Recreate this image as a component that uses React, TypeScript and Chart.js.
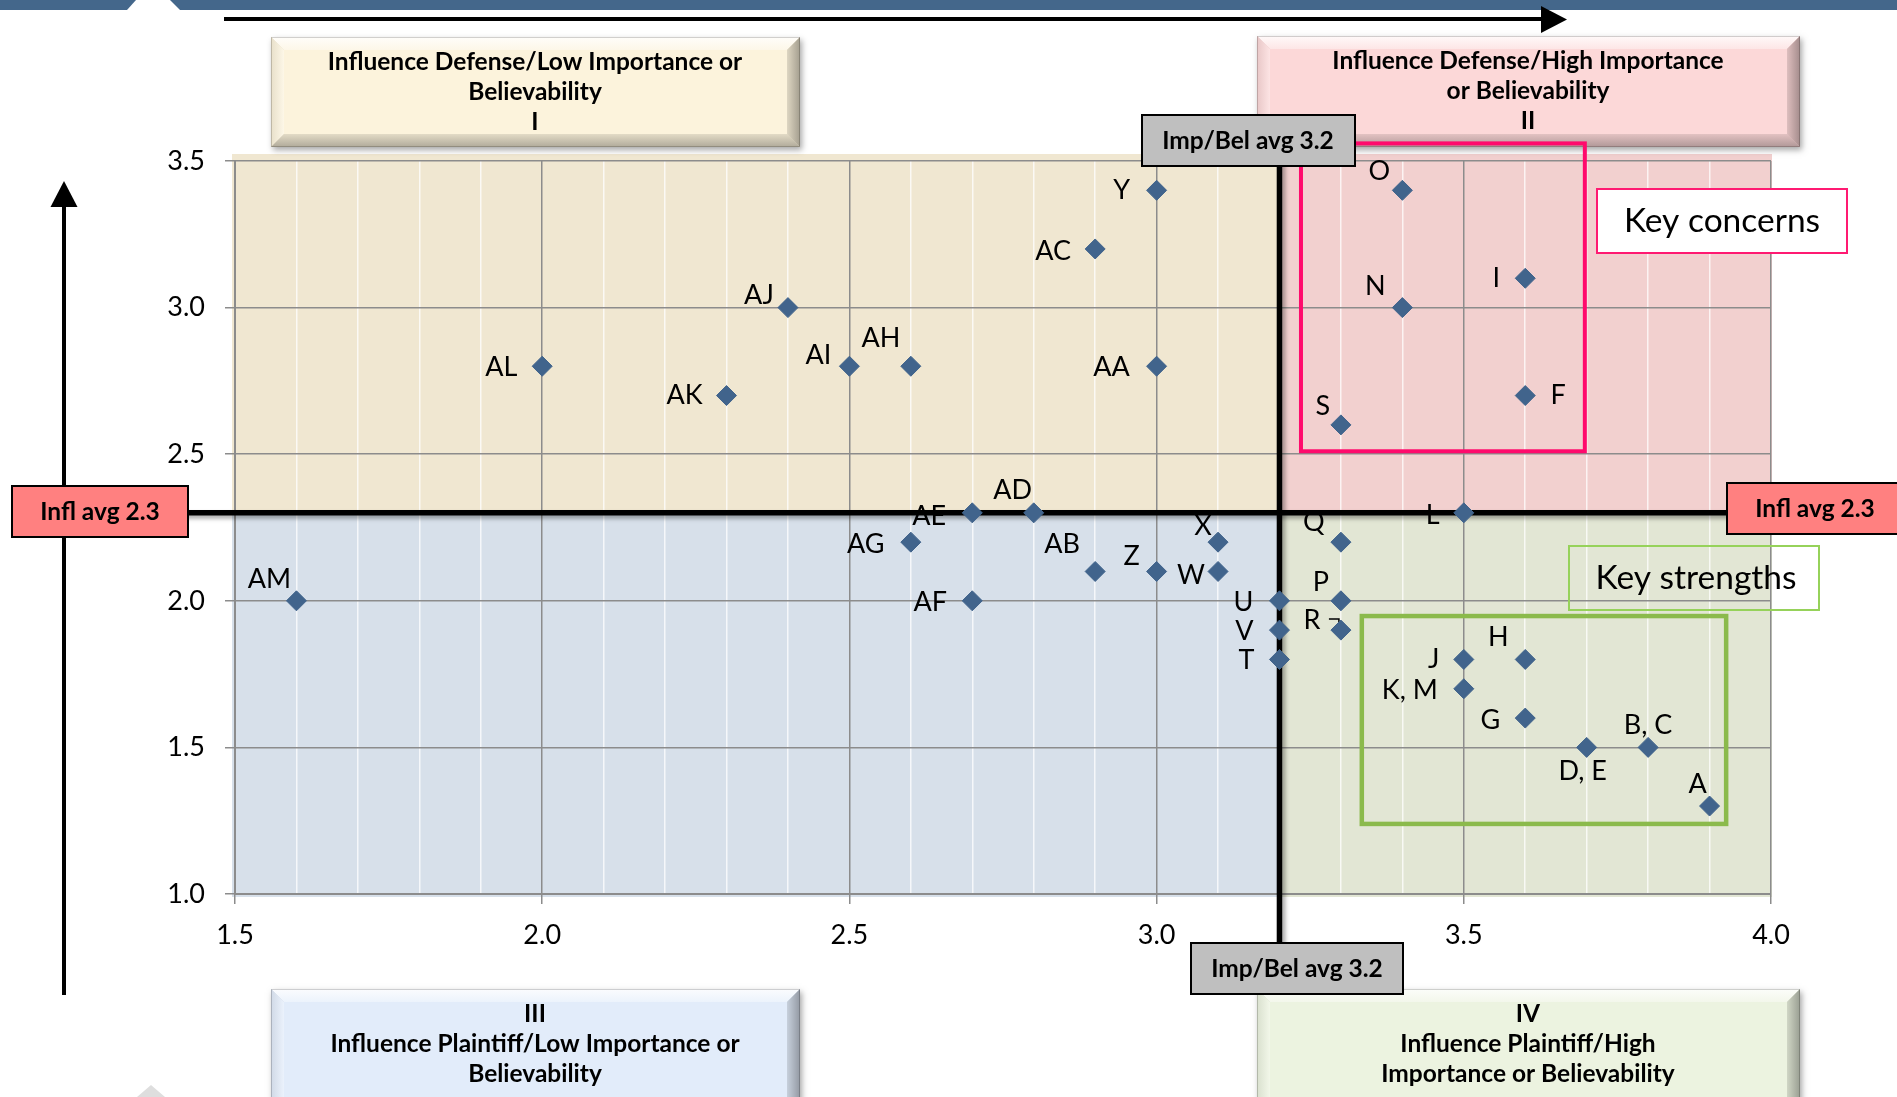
import { useEffect, useRef } from 'react';
import { Chart, registerables } from 'chart.js';

Chart.register(...registerables);

// ---------------- data ----------------
const pointLabels = ['A', 'B, C', 'D, E', 'F', 'G', 'H', 'I', 'J', 'K, M', 'L', 'N', 'O', 'P', 'Q', 'R', 'S', 'T', 'U', 'V', 'W', 'X', 'Y', 'Z', 'AA', 'AB', 'AC', 'AD', 'AE', 'AF', 'AG', 'AH', 'AI', 'AJ', 'AK', 'AL', 'AM'];
const importanceValues = [3.9, 3.8, 3.7, 3.6, 3.6, 3.6, 3.6, 3.5, 3.5, 3.5, 3.4, 3.4, 3.3, 3.3, 3.3, 3.3, 3.2, 3.2, 3.2, 3.1, 3.1, 3.0, 3.0, 3.0, 2.9, 2.9, 2.8, 2.7, 2.7, 2.6, 2.6, 2.5, 2.4, 2.3, 2.0, 1.6];
const influenceValues = [1.3, 1.5, 1.5, 2.7, 1.6, 1.8, 3.1, 1.8, 1.7, 2.3, 3.0, 3.4, 2.0, 2.2, 1.9, 2.6, 1.8, 2.0, 1.9, 2.1, 2.2, 3.4, 2.1, 2.8, 2.1, 3.2, 2.3, 2.3, 2.0, 2.2, 2.8, 2.8, 3.0, 2.7, 2.8, 2.0];

const importanceAvg = 3.2;
const influenceAvg = 2.3;

const xTickRange = [1.5, 4.0];
const yTickRange = [1.0, 3.5];

const quadrantTitles = {
  I: ['Influence Defense/Low Importance or', 'Believability', 'I'],
  II: ['Influence Defense/High Importance', 'or Believability', 'II'],
  III: ['III', 'Influence Plaintiff/Low Importance or', 'Believability'],
  IV: ['IV', 'Influence Plaintiff/High', 'Importance or Believability'],
};
const impAvgLabel = 'Imp/Bel avg 3.2';
const inflAvgLabel = 'Infl avg 2.3';
const keyConcernsLabel = 'Key concerns';
const keyStrengthsLabel = 'Key strengths';

// highlight rectangles in data units [xMin, xMax, yMin, yMax]
const keyConcernsArea = [3.235, 3.697, 2.51, 3.56];
const keyStrengthsArea = [3.334, 3.927, 1.239, 1.948];

// ---------------- styling (label placement relative to point, px) ----------------
const labelOffsets: Record<string, [number, number]> = {
  Y: [-35, 0], AC: [-42, 2], AJ: [-29, -12], AL: [-41, 1], AK: [-42, 0], AI: [-31, -11],
  AH: [-30, -28], AA: [-45, 1], O: [-23, -19], I: [-29, 0], N: [-27, -21], F: [33, 0],
  S: [-18, -19], AE: [-43, 3], AD: [-21, -23], L: [-31, 2], AG: [-45, 2], X: [-15, -16],
  Q: [-27, -20], AB: [-33, -27], Z: [-25, -15], W: [-27, 4], AM: [-27, -22], AF: [-42, 1],
  U: [-36, 1], P: [-20, -19], V: [-35, 1], R: [-29, -10], T: [-33, 1], J: [-30, 0],
  H: [-27, -22], 'K, M': [-54, 2], G: [-35, 2], 'D, E': [-4, 24], 'B, C': [0, -22], A: [-12, -22],
};

const FONT = 'Lato, "Open Sans", "DejaVu Sans", sans-serif';

type RGB = [number, number, number];
const W: RGB = [255, 255, 255];
const K: RGB = [0, 0, 0];
const mix = (c: RGB, t: RGB, f: number) =>
  `rgb(${c.map((v, i) => Math.round(v + (t[i] - v) * f)).join(',')})`;

function poly(ctx: CanvasRenderingContext2D, pts: number[][], fill: any) {
  ctx.beginPath();
  ctx.moveTo(pts[0][0], pts[0][1]);
  for (let i = 1; i < pts.length; i++) ctx.lineTo(pts[i][0], pts[i][1]);
  ctx.closePath();
  ctx.fillStyle = fill;
  ctx.fill();
}

function bevelBox(ctx: CanvasRenderingContext2D, x: number, y: number, w: number, h: number, base: RGB, inset = 13) {
  ctx.save();
  ctx.shadowColor = 'rgba(0,0,0,0.35)';
  ctx.shadowBlur = 6;
  ctx.shadowOffsetX = 2;
  ctx.shadowOffsetY = 3;
  ctx.fillStyle = mix(base, K, 0.1);
  ctx.fillRect(x, y, w, h);
  ctx.restore();

  const gt = ctx.createLinearGradient(0, y, 0, y + inset);
  gt.addColorStop(0, mix(base, W, 0.85));
  gt.addColorStop(1, mix(base, W, 0.35));
  poly(ctx, [[x, y], [x + w, y], [x + w - inset, y + inset], [x + inset, y + inset]], gt);

  const gl = ctx.createLinearGradient(x, 0, x + inset, 0);
  gl.addColorStop(0, mix(base, K, 0.08));
  gl.addColorStop(1, mix(base, W, 0.3));
  poly(ctx, [[x, y], [x + inset, y + inset], [x + inset, y + h - inset], [x, y + h]], gl);

  const gb = ctx.createLinearGradient(0, y + h - inset, 0, y + h);
  gb.addColorStop(0, mix(base, K, 0.1));
  gb.addColorStop(1, mix(base, K, 0.3));
  poly(ctx, [[x, y + h], [x + inset, y + h - inset], [x + w - inset, y + h - inset], [x + w, y + h]], gb);

  const gr = ctx.createLinearGradient(x + w - inset, 0, x + w, 0);
  gr.addColorStop(0, mix(base, K, 0.12));
  gr.addColorStop(1, mix(base, K, 0.35));
  poly(ctx, [[x + w, y], [x + w, y + h], [x + w - inset, y + h - inset], [x + w - inset, y + inset]], gr);

  ctx.fillStyle = mix(base, W, 0);
  ctx.fillRect(x + inset, y + inset, w - 2 * inset, h - 2 * inset);
  ctx.strokeStyle = 'rgba(0,0,0,0.18)';
  ctx.lineWidth = 1;
  ctx.strokeRect(x + 0.5, y + 0.5, w - 1, h - 1);
}

function textLines(ctx: CanvasRenderingContext2D, lines: string[], cx: number, ys: number[], font: string) {
  ctx.save();
  ctx.font = font;
  ctx.fillStyle = '#000';
  ctx.textAlign = 'center';
  ctx.textBaseline = 'middle';
  lines.forEach((t, i) => ctx.fillText(t, cx, ys[i]));
  ctx.restore();
}

function labelBox(ctx: CanvasRenderingContext2D, x: number, y: number, w: number, h: number, fill: string, text: string, tx: number, ty: number) {
  ctx.save();
  ctx.fillStyle = fill;
  ctx.fillRect(x, y, w, h);
  ctx.strokeStyle = '#000';
  ctx.lineWidth = 2;
  ctx.strokeRect(x, y, w, h);
  ctx.font = `bold 24.5px ${FONT}`;
  ctx.fillStyle = '#000';
  ctx.textAlign = 'center';
  ctx.textBaseline = 'middle';
  ctx.fillText(text, tx, ty);
  ctx.restore();
}

const isMajor = (v: number) => Math.abs(v * 2 - Math.round(v * 2)) < 1e-6;

const quadrantPlugin = {
  id: 'quadrants',
  beforeDraw(chart: any) {
    const { ctx, chartArea: a, scales } = chart;
    const mx = scales.x.getPixelForValue(importanceAvg);
    const my = scales.y.getPixelForValue(influenceAvg);
    const L = a.left - 3, R = a.right + 1, T = a.top - 7, B = a.bottom + 3;
    ctx.save();
    ctx.fillStyle = '#fff';
    ctx.fillRect(0, 0, chart.width, chart.height);
    ctx.fillStyle = 'rgb(240,231,209)';
    ctx.fillRect(L, T, mx - L, my - T);
    ctx.fillStyle = 'rgb(242,208,207)';
    ctx.fillRect(mx, T, R - mx, my - T);
    ctx.fillStyle = 'rgb(215,224,234)';
    ctx.fillRect(L, my, mx - L, B - my);
    ctx.fillStyle = 'rgb(226,230,212)';
    ctx.fillRect(mx, my, R - mx, B - my);
    ctx.restore();
  },
  beforeDatasetsDraw(chart: any) {
    const { ctx, scales } = chart;
    const meta = chart.getDatasetMeta(0);
    ctx.save();
    ctx.font = `27px ${FONT}`;
    ctx.fillStyle = '#000';
    ctx.textAlign = 'center';
    ctx.textBaseline = 'middle';
    meta.data.forEach((pt: any, i: number) => {
      const lab = pointLabels[i];
      const off = labelOffsets[lab] || [-30, 0];
      ctx.fillText(lab, pt.x + off[0], pt.y + off[1]);
      if (lab === 'R') {
        ctx.beginPath();
        ctx.strokeStyle = '#000';
        ctx.lineWidth = 1.5;
        ctx.moveTo(pt.x - 12, pt.y - 11);
        ctx.lineTo(pt.x - 2, pt.y - 11);
        ctx.lineTo(pt.x - 2, pt.y - 3);
        ctx.stroke();
      }
    });
    ctx.restore();

    // average lines
    const mx = scales.x.getPixelForValue(importanceAvg);
    const my = scales.y.getPixelForValue(influenceAvg);
    ctx.save();
    ctx.strokeStyle = '#000';
    ctx.lineWidth = 5.5;
    ctx.shadowColor = 'rgba(0,0,0,0.35)';
    ctx.shadowBlur = 4;
    ctx.shadowOffsetY = 3;
    ctx.beginPath();
    ctx.moveTo(150, my);
    ctx.lineTo(1760, my);
    ctx.stroke();
    ctx.shadowOffsetY = 0;
    ctx.shadowOffsetX = 3;
    ctx.beginPath();
    ctx.moveTo(mx, 140);
    ctx.lineTo(mx, 960);
    ctx.stroke();
    ctx.restore();
  },
  afterDraw(chart: any) {
    const { ctx, scales } = chart;
    // top banner
    ctx.save();
    ctx.fillStyle = 'rgb(68,103,139)';
    ctx.fillRect(0, 0, chart.width, 10);
    poly(ctx, [[136, 0], [170, 0], [180, 10], [127, 10]], '#fff');
    // faint triangle bottom-left
    poly(ctx, [[151, 1085], [165, 1097], [137, 1097]], 'rgb(222,222,222)');

    // arrows
    ctx.strokeStyle = '#000';
    ctx.lineWidth = 4;
    ctx.beginPath();
    ctx.moveTo(224, 19);
    ctx.lineTo(1545, 19);
    ctx.stroke();
    poly(ctx, [[1541, 6], [1567, 19.5], [1541, 33]], '#000');
    ctx.beginPath();
    ctx.moveTo(64, 995);
    ctx.lineTo(64, 203);
    ctx.stroke();
    poly(ctx, [[50.5, 207], [64, 181], [77.5, 207]], '#000');
    ctx.restore();

    // quadrant title boxes
    const bold = `bold 24.5px ${FONT}`;
    bevelBox(ctx, 271, 37, 529, 110, [252, 243, 220]);
    textLines(ctx, quadrantTitles.I, 535, [62, 92, 122], bold);
    bevelBox(ctx, 1257, 36, 543, 111, [252, 216, 216]);
    textLines(ctx, quadrantTitles.II, 1528, [61, 91, 121], bold);
    bevelBox(ctx, 271, 989, 529, 125, [226, 236, 250]);
    textLines(ctx, quadrantTitles.III, 535, [1014, 1044, 1074], bold);
    bevelBox(ctx, 1257, 989, 543, 125, [236, 243, 224]);
    textLines(ctx, quadrantTitles.IV, 1528, [1014, 1044, 1074], bold);

    // highlight rectangles
    const rect = (area: number[], color: string, lw: number) => {
      const x1 = scales.x.getPixelForValue(area[0]);
      const x2 = scales.x.getPixelForValue(area[1]);
      const y1 = scales.y.getPixelForValue(area[3]);
      const y2 = scales.y.getPixelForValue(area[2]);
      ctx.save();
      ctx.strokeStyle = color;
      ctx.lineWidth = lw;
      ctx.strokeRect(x1, y1, x2 - x1, y2 - y1);
      ctx.restore();
    };
    rect(keyConcernsArea, '#FF0A6C', 4);
    rect(keyStrengthsArea, '#8BBA4C', 4.5);

    // average label boxes
    labelBox(ctx, 1142, 115, 213, 51, 'rgb(191,191,191)', impAvgLabel, 1248, 141);
    labelBox(ctx, 1191, 943, 212, 51, 'rgb(191,191,191)', impAvgLabel, 1297, 969);
    labelBox(ctx, 12, 486, 176, 51, 'rgb(255,128,128)', inflAvgLabel, 100, 512);
    labelBox(ctx, 1727, 483, 180, 51, 'rgb(255,128,128)', inflAvgLabel, 1815, 509);

    // key text boxes
    ctx.save();
    ctx.fillStyle = '#fff';
    ctx.fillRect(1597, 189, 250, 64);
    ctx.strokeStyle = '#FF1A72';
    ctx.lineWidth = 2;
    ctx.strokeRect(1597, 189, 250, 64);
    ctx.strokeStyle = '#96D25A';
    ctx.strokeRect(1569, 546, 250, 64);
    ctx.font = `33.5px ${FONT}`;
    ctx.fillStyle = '#000';
    ctx.textAlign = 'center';
    ctx.textBaseline = 'middle';
    ctx.fillText(keyConcernsLabel, 1722, 221);
    ctx.fillText(keyStrengthsLabel, 1696, 578);
    ctx.restore();
  },
};

export default function App() {
  const ref = useRef<HTMLCanvasElement | null>(null);
  useEffect(() => {
    let chart: Chart | null = null;
    let cancelled = false;
    const make = () => {
      if (cancelled || !ref.current) return;
      chart = new Chart(ref.current, {
        type: 'scatter',
        data: {
          datasets: [
            {
              label: 'Issues',
              data: importanceValues.map((v, i) => ({ x: v, y: influenceValues[i] })),
              pointStyle: 'rectRot',
              pointRadius: 10,
              pointHoverRadius: 10,
              backgroundColor: 'rgb(65,100,140)',
              borderColor: 'rgb(65,100,140)',
              borderWidth: 1,
            },
          ],
        },
        options: {
          animation: false,
          responsive: false,
          devicePixelRatio: 1,
          events: [],
          layout: { padding: { top: 161, left: 0, right: 126, bottom: 143 } },
          plugins: { legend: { display: false }, tooltip: { enabled: false }, title: { display: false } },
          scales: {
            x: {
              type: 'linear',
              min: xTickRange[0],
              max: xTickRange[1],
              afterFit: (s: any) => { s.height = 60; },
              border: { color: '#8c8c8c', width: 2 },
              grid: {
                color: (c: any) => (isMajor(c.tick?.value ?? 0) ? '#8c8c8c' : 'rgba(255,255,255,0.75)'),
                tickColor: (c: any) => (isMajor(c.tick?.value ?? 0) ? '#8c8c8c' : 'rgba(0,0,0,0)'),
                lineWidth: 1.5,
                tickLength: 10,
              },
              ticks: {
                stepSize: 0.1,
                autoSkip: false,
                maxRotation: 0,
                padding: 15,
                color: '#000',
                font: { family: FONT, size: 27 },
                callback: (v: any) => (isMajor(Number(v)) ? Number(v).toFixed(1) : ''),
              },
            },
            y: {
              type: 'linear',
              min: yTickRange[0],
              max: yTickRange[1],
              afterFit: (s: any) => { s.width = 235; },
              border: { color: '#8c8c8c', width: 2 },
              grid: { color: '#8c8c8c', lineWidth: 1.5, tickLength: 10 },
              ticks: {
                stepSize: 0.5,
                padding: 20,
                color: '#000',
                font: { family: FONT, size: 27 },
                callback: (v: any) => Number(v).toFixed(1),
              },
            },
          },
        },
        plugins: [quadrantPlugin],
      });
    };
    const fonts = (document as any).fonts;
    if (fonts && fonts.load) {
      Promise.all([fonts.load(`27px Lato`), fonts.load(`bold 24px Lato`)]).then(make, make);
    } else make();
    return () => {
      cancelled = true;
      if (chart) chart.destroy();
    };
  }, []);
  return (
    <div style={{ position: 'fixed', left: 0, top: 0, width: 1897, height: 1097, background: '#fff' }}>
      <canvas ref={ref} width={1897} height={1097} style={{ display: 'block' }} />
    </div>
  );
}
